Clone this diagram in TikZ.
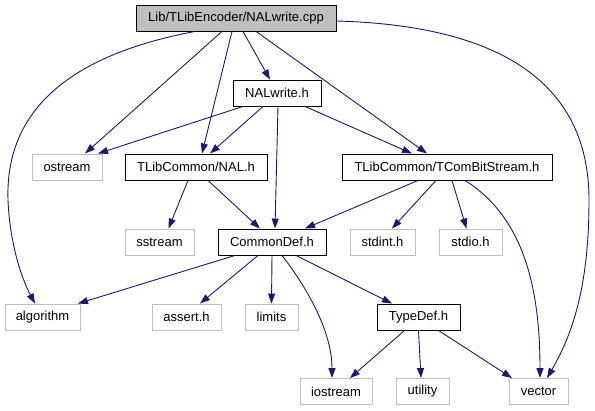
\documentclass[tikz,border=0pt]{standalone}
\usepackage{fontspec}
\setmainfont{Liberation Sans}
\usetikzlibrary{arrows.meta}
\definecolor{edgeblue}{HTML}{191970}
\definecolor{boxgray}{HTML}{BFBFBF}
\begin{document}
\begin{tikzpicture}[x=1pt,y=-1pt,
  box/.style={draw=black, line width=0.9pt, minimum height=26pt, inner sep=0pt,
              font=\fontsize{13}{15}\selectfont, text=black},
  extbox/.style={box, draw=boxgray},
  rootbox/.style={box, fill=boxgray},
  dep/.style={draw=edgeblue, line width=0.9pt, -{Triangle[length=10pt,width=7pt]}}]
\useasboundingbox (0,0) rectangle (595,411);
% row 1
\node[rootbox, minimum width=200pt] (cpp) at (236,18) {Lib/TLibEncoder/NALwrite.cpp};
% row 2
\node[box, minimum width=88pt] (nalh) at (277,93) {NALwrite.h};
% row 3
\node[extbox, minimum width=70pt] (ostream) at (67,167) {ostream};
\node[box, minimum width=142pt] (nal) at (196,167) {TLibCommon/NAL.h};
\node[box, minimum width=210pt] (tcom) at (447,167) {TLibCommon/TComBitStream.h};
% row 4
\node[extbox, minimum width=69pt] (sstream) at (159.5,242) {sstream};
\node[box, minimum width=108pt] (cd) at (272,242) {CommonDef.h};
\node[extbox, minimum width=65pt] (stdint) at (382.5,242) {stdint.h};
\node[extbox, minimum width=63pt] (stdio) at (470.5,242) {stdio.h};
% row 5
\node[extbox, minimum width=75pt] (algorithm) at (42.5,317) {algorithm};
\node[extbox, minimum width=69pt] (assert) at (186.5,317) {assert.h};
\node[extbox, minimum width=53pt] (limits) at (271.5,317) {limits};
\node[box, minimum width=83pt] (typedef) at (418.5,317) {TypeDef.h};
% row 6
\node[extbox, minimum width=72pt] (iostream) at (336,391.5) {iostream};
\node[extbox, minimum width=53pt] (utility) at (422.5,391.5) {utility};
\node[extbox, minimum width=59pt] (vector) at (538.5,391.5) {vector};

% edges from cpp
\draw[dep] ([xshift=7pt]cpp.south) -- ([xshift=-7pt]nalh.north);
\draw[dep] ([xshift=-14pt]cpp.south) -- ([xshift=18pt]ostream.north);
\draw[dep] ([xshift=-4pt]cpp.south) -- ([xshift=6pt]nal.north);
\draw[dep] ([xshift=-41pt]cpp.south) .. controls (70,55) and (5,110) .. (8,200)
           .. controls (10,250) and (25,285) .. ([xshift=-7.5pt]algorithm.north);
\draw[dep] ([xshift=20pt]cpp.south) -- ([xshift=-20pt]tcom.north);
\draw[dep] ([yshift=-3pt]cpp.east) .. controls (480,25) and (589,70) .. (589,200)
           .. controls (589,280) and (575,330) .. ([xshift=8.5pt]vector.north);
% edges from NALwrite.h
\draw[dep] ([xshift=-34pt]nalh.south) -- ([xshift=31pt]ostream.north);
\draw[dep] ([xshift=-14pt]nalh.south) -- ([xshift=14pt]nal.north);
\draw[dep] ([xshift=1pt]nalh.south) -- ([xshift=3pt]cd.north);
\draw[dep] ([xshift=28pt]nalh.south) -- ([xshift=-35pt]tcom.north);
% edges from NAL.h
\draw[dep] ([xshift=-8pt]nal.south) -- ([xshift=9pt]sstream.north);
\draw[dep] ([xshift=12pt]nal.south) -- ([xshift=-12pt]cd.north);
% edges from TComBitStream.h
\draw[dep] ([xshift=-29pt]tcom.south) -- ([xshift=33pt]cd.north);
\draw[dep] ([xshift=-11pt]tcom.south) -- ([xshift=9.5pt]stdint.north);
\draw[dep] ([xshift=5pt]tcom.south) -- ([xshift=-4pt]stdio.north);
\draw[dep] ([xshift=18pt]tcom.south) .. controls (520,215) and (540,280) .. ([xshift=1.5pt]vector.north);
% edges from CommonDef.h
\draw[dep] ([xshift=-37pt]cd.south) -- ([xshift=35.5pt]algorithm.north);
\draw[dep] ([xshift=-14pt]cd.south) -- ([xshift=13.5pt]assert.north);
\draw[dep] (cd.south) -- (limits.north);
\draw[dep] ([xshift=10pt]cd.south) .. controls (305,285) and (332,330) .. ([xshift=-4pt]iostream.north);
\draw[dep] ([xshift=24pt]cd.south) -- ([xshift=-26.5pt]typedef.north);
% edges from TypeDef.h
\draw[dep] ([xshift=-14pt]typedef.south) -- ([xshift=14pt]iostream.north);
\draw[dep] (typedef.south) -- ([xshift=-1.5pt]utility.north);
\draw[dep] ([xshift=20pt]typedef.south) -- ([xshift=-26.5pt]vector.north);
\end{tikzpicture}
\end{document}
